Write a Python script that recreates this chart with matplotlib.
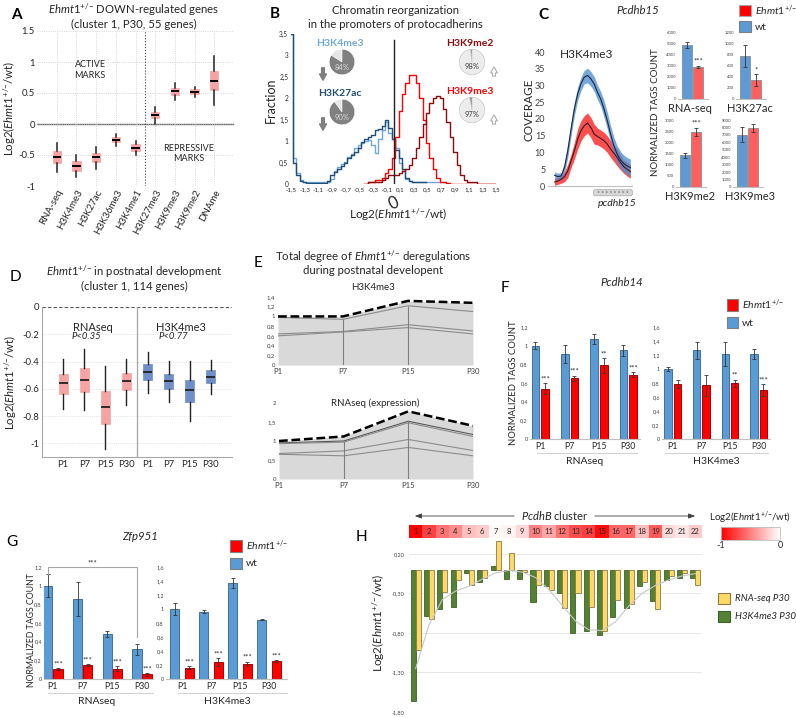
import numpy as np
import matplotlib
matplotlib.use('Agg')
import matplotlib.pyplot as plt
from matplotlib.colors import LinearSegmentedColormap
from matplotlib.patches import Rectangle, FancyBboxPatch

plt.rcParams['font.family'] = ['Lato', 'DejaVu Sans']
plt.rcParams['mathtext.fontset'] = 'custom'
plt.rcParams['mathtext.rm'] = 'Lato'
plt.rcParams['mathtext.it'] = 'Lato:italic'
plt.rcParams['mathtext.bf'] = 'Lato:bold'
plt.rcParams['axes.unicode_minus'] = False

nan = float('nan')
E1 = r'$\mathit{Ehmt1}^{{+}/{-}}$'
LOG2 = 'Log2(' + E1 + '/wt)'

# ---------------- data ----------------
# Panel A
a_marks = ['RNA-seq', 'H3K4me3', 'H3K27ac', 'H3K36me3', 'H3K4me1', 'H3K27me3', 'H3K9me3', 'H3K9me2', 'DNAme']
a_whislo = [-0.78, -0.85, -0.72, -0.35, -0.50, 0.00, 0.38, 0.43, 0.30]
a_q1 = [-0.63, -0.75, -0.61, -0.29, -0.43, 0.09, 0.47, 0.48, 0.55]
a_med = [-0.54, -0.67, -0.54, -0.25, -0.38, 0.14, 0.53, 0.52, 0.70]
a_q3 = [-0.43, -0.60, -0.47, -0.21, -0.33, 0.19, 0.58, 0.56, 0.86]
a_whishi = [-0.30, -0.50, -0.37, -0.16, -0.27, 0.27, 0.66, 0.60, 1.10]
a_yticks = [-1, -0.5, 0, 0.5, 1, 1.5]
a_yticklabels = ['-1', '-0.5', '0', '0.5', '1', '1.5']

# Panel B
b_bins = [-1.50, -1.45, -1.40, -1.35, -1.30, -1.25, -1.20, -1.15, -1.10, -1.05, -1.00, -0.95, -0.90, -0.85,
          -0.80, -0.75, -0.70, -0.65, -0.60, -0.55, -0.50, -0.45, -0.40, -0.35, -0.30, -0.25, -0.20, -0.15,
          -0.10, -0.05, 0.00, 0.05, 0.10, 0.15, 0.20, 0.25, 0.30, 0.35, 0.40, 0.45, 0.50, 0.55, 0.60, 0.65,
          0.70, 0.75, 0.80, 0.85, 0.90, 0.95, 1.00, 1.05, 1.10, 1.15, 1.20, 1.25, 1.30, 1.35, 1.40, 1.45, 1.50]
b_k4me3 = [3.5, 0.6, 0.25, 0.1, 0.05, 0.05, 0.05, 0.05, 0.05, 0.05, 0.05, 0.05,
           0.12, 0.3, 0.4, 0.47, 0.52, 0.62, 0.7, 0.85, 0.9, 0.95, 1.0, 1.02, 0.9, 0.72, 1.05, 1.25,
           1.45, 1.2, 1.05, 0.85, 0.5, 0.3, 0.12, 0.06,
           0.05, 0.05, 0.05, 0.05, 0.05, 0.05, 0.05, 0.05, 0.05, 0.05,
           nan, nan, nan, nan, nan, nan, nan, nan, nan, nan, nan, nan, nan, nan, nan]
b_k27ac = [3.5, 0.5, 0.2, 0.08, 0.04, 0.03, 0.03, 0.03, 0.03, 0.03,
           0.03, 0.08, 0.2, 0.28, 0.35, 0.42, 0.5, 0.6, 0.68, 0.75, 0.85, 0.98, 1.05, 1.1, 1.15, 1.25,
           1.28, 1.35, 1.5, 1.3, 1.05, 0.8, 0.6, 0.35, 0.15, 0.07,
           0.05, 0.05, 0.05, 0.05,
           nan, nan, nan, nan, nan, nan, nan, nan, nan, nan, nan, nan, nan, nan, nan, nan, nan, nan, nan, nan, nan]
b_k9me3 = [nan] * 22 + [0.0,
           0.05, 0.05, 0.1, 0.1, 0.15, 0.25, 0.35, 0.6, 1.1, 1.7, 2.1, 2.35, 2.55, 2.55, 2.35, 2.0, 1.5,
           0.95, 0.6, 0.35, 0.15, 0.05, 0.05, 0.03,
           0, 0, 0, 0, 0, 0, 0, 0, 0, 0, 0, 0, 0, 0]
b_k9me2 = [nan] * 22 + [0.0,
           0.05, 0.05, 0.05, 0.05, 0.1, 0.15, 0.2, 0.2, 0.22, 0.25, 0.3, 0.35, 0.45, 0.6, 0.85, 1.1, 1.4,
           1.65, 1.9, 2.0, 2.05, 2.0, 1.75, 1.45, 1.1, 0.75, 0.45, 0.2, 0.1, 0.05, 0.05, 0.05,
           0, 0, 0, 0, 0, 0]
b_xticks = [-1.5, -1.3, -1.1, -0.9, -0.7, -0.5, -0.3, -0.1, 0.1, 0.3, 0.5, 0.7, 0.9, 1.1, 1.3, 1.5]
b_yticks = [0, 0.5, 1, 1.5, 2, 2.5, 3, 3.5]
b_pie_names = ['H3K4me3', 'H3K27ac', 'H3K9me2', 'H3K9me3']
b_pie_pct = [84, 90, 98, 97]

# Panel C
c_wt_mean = [3.2, 2.8, 3.0, 5.5, 10.5, 17, 23, 27.5, 30.5, 32.5, 33, 32, 30.5, 28, 26, 23, 19.5, 15.5,
             12, 9.5, 7.8, 6.7, 6.0, 5.5]
c_wt_sd = [1, 1, 1, 1.5, 2, 2, 2, 2, 2, 2, 2.2, 2.2, 2.2, 2.2, 2.2, 2.5, 2.5, 2.5, 2.5, 2.5, 2.5, 2.5, 2.5, 2.5]
c_mut_mean = [1.2, 1.5, 2.0, 2.8, 4.5, 7.5, 10.5, 14, 16.5, 18, 18.8, 17.5, 15.5, 14.8, 14.2, 13.5, 12.5,
              11, 9.8, 8.5, 7, 5.8, 5.0, 4.3]
c_mut_sd = [1, 1, 1.2, 1.5, 2, 2, 2.5, 3, 3, 3, 3, 3, 3, 2.5, 2.5, 2.5, 2.5, 2.5, 2.5, 2.5, 2.2, 2, 2, 2]
c_cov_ticks = [0, 5, 10, 15, 20, 25, 30, 35, 40]
c_sets = ['RNA-seq', 'H3K27ac', 'H3K9me2', 'H3K9me3']
c_wt = [4850, 770, 1420, 7000]
c_wt_err = [280, 200, 100, 1000]
c_mut = [2850, 340, 2480, 7900]
c_mut_err = [80, 100, 180, 500]
c_stars = ['***', '*', '***', '']
c_ymax = [6000, 1200, 3000, 9000]
c_yticks = [[0, 1000, 2000, 3000, 4000, 5000, 6000],
            [0, 200, 400, 600, 800, 1000, 1200],
            [0, 500, 1000, 1500, 2000, 2500, 3000],
            [0, 1000, 2000, 3000, 4000, 5000, 6000, 7000, 8000, 9000]]

# Panel D
d_labels = ['P1', 'P7', 'P15', 'P30', 'P1', 'P7', 'P15', 'P30']
d_whislo = [-0.75, -0.755, -1.04, -0.715, -0.63, -0.695, -0.835, -0.635]
d_q1 = [-0.635, -0.62, -0.855, -0.61, -0.535, -0.60, -0.695, -0.555]
d_med = [-0.56, -0.535, -0.735, -0.545, -0.475, -0.545, -0.61, -0.51]
d_q3 = [-0.49, -0.445, -0.615, -0.485, -0.42, -0.49, -0.535, -0.465]
d_whishi = [-0.38, -0.31, -0.435, -0.38, -0.33, -0.395, -0.395, -0.39]
d_yticks = [-1, -0.8, -0.6, -0.4, -0.2, 0]
d_yticklabels = ['-1', '-0.8', '-0.6', '-0.4', '-0.2', '0']

# Panel E
stages = ['P1', 'P7', 'P15', 'P30']
e_k4_total = [1.0, 1.0, 1.32, 1.28]
e_k4_lines = [[0.98, 0.94, 1.22, 1.10], [0.64, 0.69, 0.83, 0.70], [0.60, 0.68, 0.77, 0.64]]
e_rna_total = [1.0, 1.12, 1.78, 1.40]
e_rna_lines = [[0.95, 1.0, 1.52, 1.17], [0.93, 0.97, 1.48, 1.12], [0.67, 0.74, 1.04, 0.75],
               [0.65, 0.61, 0.83, 0.61]]
e_k4_ticks = [0, 0.2, 0.4, 0.6, 0.8, 1, 1.2, 1.4]
e_rna_ticks = [0, 0.5, 1, 1.5, 2]

# Panel F (Pcdhb14)
f_rna_wt = [1.0, 0.91, 1.07, 0.95]
f_rna_wt_err = [0.04, 0.10, 0.05, 0.06]
f_rna_mut = [0.54, 0.65, 0.79, 0.69]
f_rna_mut_err = [0.06, 0.03, 0.08, 0.03]
f_rna_stars = ['***', '***', '**', '***']
f_k4_wt = [1.0, 1.27, 1.21, 1.21]
f_k4_wt_err = [0.03, 0.12, 0.17, 0.07]
f_k4_mut = [0.79, 0.77, 0.80, 0.70]
f_k4_mut_err = [0.06, 0.15, 0.05, 0.09]
f_k4_stars = ['', '', '**', '***']
ticks_12 = [0, 0.2, 0.4, 0.6, 0.8, 1, 1.2]
ticks_16 = [0, 0.2, 0.4, 0.6, 0.8, 1, 1.2, 1.4, 1.6]

# Panel G (Zfp951)
g_rna_wt = [1.0, 0.86, 0.48, 0.32]
g_rna_wt_err = [0.12, 0.18, 0.03, 0.06]
g_rna_mut = [0.11, 0.15, 0.11, 0.05]
g_rna_mut_err = [0.01, 0.015, 0.025, 0.015]
g_rna_stars = ['***', '***', '***', '***']
g_k4_wt = [1.0, 0.96, 1.37, 0.85]
g_k4_wt_err = [0.09, 0.02, 0.07, 0.01]
g_k4_mut = [0.16, 0.24, 0.22, 0.26]
g_k4_mut_err = [0.02, 0.06, 0.03, 0.01]
g_k4_stars = ['***', '***', '***', '***']

# Panel H
h_genes = [str(i) for i in range(1, 23)]
h_k4 = [-1.66, -0.58, -0.50, -0.47, -0.04, -0.16, 0.05, -0.12, -0.12, -0.41, -0.21, -0.30, -0.80, -0.78,
        -0.83, -0.60, -0.49, -0.21, -0.40, -0.13, -0.11, -0.10]
h_rna = [-1.01, -0.62, -0.28, -0.13, -0.19, -0.10, 0.36, 0.21, -0.03, -0.19, -0.26, -0.48, -0.30, -0.47,
         -0.77, -0.39, -0.43, -0.15, -0.50, -0.08, -0.04, -0.19]
h_trend = [-1.25, -0.70, -0.38, -0.27, -0.21, -0.12, -0.04, -0.01, -0.03, -0.10, -0.25, -0.45, -0.65,
           -0.76, -0.77, -0.66, -0.46, -0.30, -0.20, -0.13, -0.08, -0.05]
h_heat = [-1.0, -0.75, -0.55, -0.45, -0.25, -0.2, -0.02, -0.05, -0.15, -0.5, -0.35, -0.55, -0.7, -0.75,
          -0.95, -0.6, -0.6, -0.25, -0.65, -0.15, -0.1, -0.2]
h_yticks = [-1.8, -1.3, -0.8, -0.3, 0.2]
h_yticklabels = ['-1,80', '-1,30', '-0,80', '-0,30', '0,20']

# ---------------- colours ----------------
PINK = '#f5a3a3'
DBOX = '#6f8fc8'
LBLUE = '#6fa8dc'
DBLUE = '#1f4e79'
RED = '#ff0000'
DRED = '#8e0b0b'
BLUE = '#5b9bd5'
BLUE_E = '#41719c'
RED_E = '#b00000'
CRED = '#ff5f5f'
YEL = '#ffd966'
GRN = '#548235'
TXT = '#262626'

TITLE = 8.2


def cf(v):
    return ('%g' % v).replace('.', ',')


# ---------------- figure ----------------
W, H = 796, 718
fig = plt.figure(figsize=(W / 100, H / 100), dpi=100)


def pax(x0, y0, x1, y1, **kw):
    return fig.add_axes([x0 / W, 1 - y1 / H, (x1 - x0) / W, (y1 - y0) / H], **kw)


ov = fig.add_axes([0, 0, 1, 1], zorder=20)
ov.set_xlim(0, W)
ov.set_ylim(H, 0)
ov.axis('off')


def T(x, y, s, size=7, **kw):
    kw.setdefault('ha', 'center')
    kw.setdefault('va', 'center')
    kw.setdefault('color', TXT)
    return ov.text(x, y, s, fontsize=size, **kw)


def sq(x, y, w, h, fc, ec):
    ov.add_patch(Rectangle((x, y), w, h, facecolor=fc, edgecolor=ec, lw=0.8))


# ===== Panel A =====
axA = pax(37, 31, 234, 186)
posA = np.arange(1, len(a_marks) + 1)
statsA = [dict(label=l, whislo=a, q1=b, med=c, q3=d, whishi=e)
          for l, a, b, c, d, e in zip(a_marks, a_whislo, a_q1, a_med, a_q3, a_whishi)]
axA.bxp(statsA, positions=posA, widths=0.42, patch_artist=True, showfliers=False, showcaps=False,
        boxprops=dict(facecolor=PINK, edgecolor=PINK, lw=0.5),
        medianprops=dict(color='black', lw=1.4),
        whiskerprops=dict(color='#222222', lw=1.1))
axA.set_xlim(0, 10)
axA.set_ylim(-1, 1.5)
axA.set_yticks(a_yticks)
axA.set_yticklabels(a_yticklabels, fontsize=6.8)
axA.set_xticks(posA)
axA.set_xticklabels(a_marks, rotation=62, ha='right', rotation_mode='anchor', fontsize=7)
axA.grid(True, ls=':', color='#c8c8c8', lw=0.6)
axA.set_axisbelow(True)
axA.axhline(0, color='#666666', lw=1, zorder=0.5)
axA.axvline(5.5, color='#404040', ls=':', lw=0.8)
for s in axA.spines.values():
    s.set_visible(False)
axA.tick_params(length=0, pad=1.5, colors=TXT)
axA.text(2.7, 0.87, 'ACTIVE\nMARKS', ha='center', va='center', fontsize=6.5, color=TXT)
axA.text(7.7, -0.48, 'REPRESSIVE\nMARKS', ha='center', va='center', fontsize=6.5, color=TXT)
T(16, 15, 'A', 11, weight='bold', color='black')
T(134, 10, E1 + ' DOWN-regulated genes', TITLE)
T(134, 24, '(cluster 1, P30, 55 genes)', TITLE)
T(10, 108, LOG2, 8.2, rotation=90)

# ===== Panel B =====
axB = pax(291, 34, 496, 184)
xb = np.array(b_bins)
axB.plot(xb, b_k4me3, color=LBLUE, lw=1.0, drawstyle='steps-mid')
axB.plot(xb, b_k27ac, color=DBLUE, lw=1.0, drawstyle='steps-mid')
axB.plot(xb, b_k9me3, color=RED, lw=1.0, drawstyle='steps-mid')
axB.plot(xb, b_k9me2, color=DRED, lw=1.0, drawstyle='steps-mid')
axB.plot([0, 0], [0, 3.35], color='#222222', lw=1)
axB.set_xlim(-1.5, 1.5)
axB.set_ylim(0, 3.5)
axB.set_xticks(b_xticks)
axB.set_xticklabels([cf(v) for v in b_xticks], fontsize=4.5)
axB.set_yticks(b_yticks)
axB.set_yticklabels([cf(v) for v in b_yticks], fontsize=4.7)
for s in axB.spines.values():
    s.set_visible(False)
axB.tick_params(length=0, pad=2, colors=TXT)
T(275, 14, 'B', 11, weight='bold', color='black')
T(395, 10, 'Chromatin reorganization', TITLE)
T(395, 24, 'in the promoters of protocadherins', TITLE)
T(271, 100, 'Fraction', 9, rotation=90)
T(394, 203, '0', 12, rotation=25)
T(398, 215, LOG2, 8.5)

pie_spec = [(342, 62, LBLUE, True), (342, 112, DBLUE, True), (472, 62, DRED, False), (472, 110, RED, False)]
ARW = 'simple,head_width=0.5,head_length=0.45,tail_width=0.2'
for (cx, cy, col, down), name, pct in zip(pie_spec, b_pie_names, b_pie_pct):
    pa = pax(cx - 16, cy - 16, cx + 16, cy + 16)
    if down:
        pa.pie([100 - pct, pct], colors=['#e6e6e6', '#808080'], startangle=90, counterclock=True,
               wedgeprops=dict(edgecolor='white', lw=0.4))
        pa.text(0, -0.42, '%d%%' % pct, ha='center', va='center', fontsize=5.5, color='#d9d9d9')
    else:
        pa.pie([100 - pct, pct], colors=['#7f7f7f', '#ececec'], startangle=90, counterclock=True,
               wedgeprops=dict(edgecolor='#bfbfbf', lw=0.4))
        pa.text(0, -0.38, '%d%%' % pct, ha='center', va='center', fontsize=5.5, color='#404040')
    pa.set_aspect('equal')
    T(cx - 2, cy - 19, name, 7.5, weight='bold', color=col)
    if down:
        ov.annotate('', xy=(323, cy + 21), xytext=(323, cy + 3),
                    arrowprops=dict(arrowstyle=ARW, fc='#7f7f7f', ec='#7f7f7f'))
    else:
        ov.annotate('', xy=(494, cy + 2), xytext=(494, cy + 17),
                    arrowprops=dict(arrowstyle=ARW, fc='white', ec='#a6a6a6', lw=0.7))

# ===== Panel C =====
axC = pax(548, 52, 632, 186)
xc = np.arange(len(c_wt_mean))
mm = np.array(c_mut_mean)
ms = np.array(c_mut_sd)
wm = np.array(c_wt_mean)
ws = np.array(c_wt_sd)
axC.fill_between(xc, mm - ms, mm + ms, color='#ff3b3b', alpha=0.9, lw=0)
axC.fill_between(xc, wm - ws, wm + ws, color='#4f8fd0', alpha=0.78, lw=0)
axC.plot(xc, wm, color='#1c2640', lw=0.8)
axC.plot(xc, mm, color='#2a1c28', lw=0.8)
axC.set_ylim(0, 40)
axC.set_xlim(-2, len(c_wt_mean) - 0.5)
axC.set_yticks(c_cov_ticks)
axC.set_yticklabels([str(v) for v in c_cov_ticks], fontsize=6.5)
axC.set_xticks([])
for s in ['top', 'right', 'left']:
    axC.spines[s].set_visible(False)
axC.spines['bottom'].set_color('#bfbfbf')
axC.tick_params(length=0, pad=2, colors='#404040')
T(543, 15, 'C', 11, weight='bold', color='black')
T(638, 11, 'Pcdhb15', TITLE, style='italic')
T(587, 55, 'H3K4me3', 8.5)
T(529, 110, 'COVERAGE', 8.5, rotation=90)
ov.add_patch(FancyBboxPatch((594, 190), 38, 5.5, boxstyle='round,pad=0.3,rounding_size=1.5',
                            fc='#d9d9d9', ec='#a6a6a6', lw=0.5))
T(613, 192.8, '> > > > > > > >', 3.6, color='#404040')
T(617, 204, 'pcdhb15', 7.5, style='italic')

c_boxes = [(678, 32, 708, 99), (736, 32, 766, 99), (676, 120, 706, 187), (733, 120, 763, 187)]
c_lab_xy = [(690, 109), (750, 109), (690, 196), (750, 196)]
for i in range(4):
    ax = pax(*c_boxes[i])
    ax.bar([0, 1], [c_wt[i], c_mut[i]], width=0.88, color=['#5f9ad6', CRED], edgecolor='#8c8c8c', lw=0.6)
    ax.errorbar([0, 1], [c_wt[i], c_mut[i]], yerr=[c_wt_err[i], c_mut_err[i]], fmt='none',
                ecolor='#333333', elinewidth=0.6, capsize=1.2, capthick=0.6)
    if c_stars[i]:
        ax.text(1, c_mut[i] + c_mut_err[i] + c_ymax[i] * 0.02, c_stars[i], ha='center', va='bottom',
                fontsize=5.5, color=TXT)
    ax.set_ylim(0, c_ymax[i])
    ax.set_xlim(-0.85, 1.9)
    ax.set_yticks(c_yticks[i])
    ax.set_yticklabels([str(v) for v in c_yticks[i]], fontsize=3)
    ax.set_xticks([])
    for s in ['top', 'right', 'left']:
        ax.spines[s].set_visible(False)
    ax.spines['bottom'].set_color('#bfbfbf')
    ax.tick_params(length=0, pad=1.5, colors='#404040')
    T(c_lab_xy[i][0], c_lab_xy[i][1], c_sets[i], 8)
T(655, 112, 'NORMALIZED TAGS COUNT', 7, rotation=90)
sq(739, 5, 12, 11, RED, '#a6a6a6')
T(755, 11, E1, 7.5, ha='left')
sq(739, 21, 12, 11, BLUE, '#7f7f7f')
T(755, 27, 'wt', 7.5, ha='left')

# ===== Panel D =====
axD = pax(42, 307, 232, 457)
posD = np.arange(1, 9)
statsD = [dict(label=l, whislo=a, q1=b, med=c, q3=d, whishi=e)
          for l, a, b, c, d, e in zip(d_labels, d_whislo, d_q1, d_med, d_q3, d_whishi)]
bD = axD.bxp(statsD, positions=posD, widths=0.42, patch_artist=True, showfliers=False, showcaps=False,
             boxprops=dict(lw=0.5),
             medianprops=dict(color='#222222', lw=1.3),
             whiskerprops=dict(color='#222222', lw=1.0))
for k, b in enumerate(bD['boxes']):
    c = PINK if k < 4 else DBOX
    b.set_facecolor(c)
    b.set_edgecolor(c)
axD.set_xlim(0, 9)
axD.set_ylim(-1.1, 0)
axD.set_yticks(d_yticks)
axD.set_yticklabels(d_yticklabels, fontsize=6.8)
axD.set_xticks(posD)
axD.set_xticklabels(d_labels, fontsize=6.8)
axD.yaxis.grid(True, ls=':', color='#d0d0d0', lw=0.5)
axD.set_axisbelow(True)
axD.axhline(0, color='#555555', ls=(0, (3, 2)), lw=0.8)
axD.axvline(4.5, color='#a6a6a6', lw=0.9)
axD.spines['top'].set_visible(False)
axD.spines['right'].set_visible(False)
axD.spines['left'].set_color('#a6a6a6')
axD.spines['bottom'].set_color('#a6a6a6')
axD.tick_params(length=0, pad=2, colors=TXT)
axD.text(2.4, -0.15, 'RNAseq', ha='center', va='center', fontsize=8, color=TXT)
axD.text(2.1, -0.215, 'P<0.35', ha='center', va='center', fontsize=6.8, style='italic', color=TXT)
axD.text(6.6, -0.15, 'H3K4me3', ha='center', va='center', fontsize=8, color=TXT)
axD.text(6.2, -0.215, 'P<0.77', ha='center', va='center', fontsize=6.8, style='italic', color=TXT)
T(15, 277, 'D', 11, color='black')
T(134, 272, E1 + ' in postnatal development', TITLE)
T(134, 286, '(cluster 1, 114 genes)', TITLE)
T(11, 382, LOG2, 8.2, rotation=90)

# ===== Panel E =====
xe = np.arange(len(stages))


def area_panel(box, total, lines, yticks, ymax, dark_first):
    ax = pax(*box)
    ax.fill_between(xe, 0, total, color='#d9d9d9', lw=0)
    for j, ln in enumerate(lines):
        ax.plot(xe, ln, color='#595959' if (dark_first and j == 0) else '#8c8c8c', lw=0.8)
    ax.vlines(xe[1:3], 0, np.array(lines[0])[1:3], color='#7f7f7f', lw=0.8)
    ax.plot(xe, total, color='black', lw=1.8, ls=(0, (3.5, 1.5)))
    ax.set_xlim(0, 3)
    ax.set_ylim(0, ymax)
    ax.set_yticks(yticks)
    ax.set_yticklabels([cf(v) for v in yticks], fontsize=4.3)
    ax.set_xticks(xe)
    ax.set_xticklabels(stages, fontsize=5.5)
    for s in ax.spines.values():
        s.set_visible(False)
    ax.tick_params(length=0, pad=2, colors='#404040')
    return ax


area_panel((278, 297, 473, 365), e_k4_total, e_k4_lines, e_k4_ticks, 1.4, False)
axE2 = area_panel((279, 403, 473, 479), e_rna_total, e_rna_lines, e_rna_ticks, 2.0, True)
axE2.vlines(3, e_rna_lines[0][3], e_rna_total[3], color='#404040', lw=0.8)
T(258, 263, 'E', 11, color='black')
T(373, 257, 'Total degree of ' + E1 + ' deregulations', TITLE)
T(373, 271, 'during postnatal developent', TITLE)
T(373, 287, 'H3K4me3', 7)
T(375, 403, 'RNAseq (expression)', 7)


# ===== grouped bar helper (F, G) =====
def grouped(box, wt, wt_err, mut, mut_err, stars, yticks, width, off, xlim):
    ax = pax(*box)
    x = np.arange(len(stages))
    ek = dict(elinewidth=0.6, capsize=1.2, capthick=0.6, ecolor='#333333')
    ax.bar(x - off, wt, width, yerr=wt_err, color=BLUE, edgecolor=BLUE_E, lw=0.7, error_kw=ek)
    ax.bar(x + off, mut, width, yerr=mut_err, color=RED, edgecolor=RED_E, lw=0.7, error_kw=ek)
    ymax = yticks[-1]
    for xi, m, e, s in zip(x, mut, mut_err, stars):
        if s:
            ax.text(xi + off, m + e + ymax * 0.005, s, ha='center', va='bottom', fontsize=5.5, color=TXT)
    ax.set_ylim(0, ymax)
    ax.set_xlim(*xlim)
    ax.set_yticks(yticks)
    ax.set_yticklabels([cf(v) for v in yticks], fontsize=4)
    ax.set_xticks(x)
    ax.set_xticklabels(stages, fontsize=6.3)
    for s in ['top', 'right', 'left']:
        ax.spines[s].set_visible(False)
    ax.spines['bottom'].set_color('#bfbfbf')
    ax.tick_params(length=0, pad=1.5, colors='#404040')
    ax.tick_params(axis='x', pad=2, colors=TXT)
    return ax


# ===== Panel F =====
grouped((530, 327, 640, 439), f_rna_wt, f_rna_wt_err, f_rna_mut, f_rna_mut_err, f_rna_stars,
        ticks_12, 0.26, 0.165, (-0.35, 3.4))
grouped((662, 327, 770, 439), f_k4_wt, f_k4_wt_err, f_k4_mut, f_k4_mut_err, f_k4_stars,
        ticks_16, 0.26, 0.165, (-0.38, 3.4))
ov.plot([537, 637], [453, 453], color='#d0d0d0', lw=0.7)
ov.plot([665, 768], [453, 453], color='#d0d0d0', lw=0.7)
T(585, 461, 'RNAseq', 7.5)
T(716, 461, 'H3K4me3', 7.5)
T(505, 288, 'F', 11, color='black')
T(622, 283, 'Pcdhb14', TITLE, style='italic')
T(513, 383, 'NORMALIZED TAGS COUNT', 6.8, rotation=90)
sq(727, 299, 11, 12, RED, '#7f7f7f')
T(742, 305, E1, 7.5, ha='left')
sq(727, 317, 11, 11, BLUE, '#7f7f7f')
T(742, 323, 'wt', 7.5, ha='left')

# ===== Panel G =====
axG1 = grouped((44, 567, 153, 679), g_rna_wt, g_rna_wt_err, g_rna_mut, g_rna_mut_err, g_rna_stars,
               ticks_12, 0.31, 0.17, (-0.3, 3.37))
grouped((166, 567, 287, 679), g_k4_wt, g_k4_wt_err, g_k4_mut, g_k4_mut_err, g_k4_stars,
        ticks_16, 0.3, 0.25, (-0.55, 3.62))
axG1.plot([-0.17, -0.17, 2.83, 2.83], [1.13, 1.2, 1.2, 0.45], color='#a6a6a6', lw=0.8, clip_on=False)
axG1.text(1.33, 1.205, '***', ha='center', va='bottom', fontsize=5.5, color=TXT)
ov.plot([48, 153], [693, 693], color='#d0d0d0', lw=0.7)
ov.plot([178, 287], [693, 693], color='#d0d0d0', lw=0.7)
T(97, 702, 'RNAseq', 7.5)
T(227, 702, 'H3K4me3', 7.5)
T(12, 542, 'G', 11, color='black')
T(140, 537, 'Zfp951', TITLE, style='italic')
T(31, 630, 'NORMALIZED TAGS COUNT', 6.3, rotation=90)
sq(230, 540, 12, 12, RED, '#7f7f7f')
T(246, 546, E1, 7.5, ha='left')
sq(230, 558, 12, 11, BLUE, '#7f7f7f')
T(246, 564, 'wt', 7.5, ha='left')

# ===== Panel H =====
axH = pax(409, 538, 702, 712)
xh = np.arange(1, len(h_genes) + 1)
for yv in h_yticks:
    axH.axhline(yv, color='#e3e3e3', lw=0.6, zorder=0)
axH.bar(xh - 0.19, h_k4, 0.38, color=GRN, edgecolor='#3d6127', lw=0.6, zorder=2)
axH.bar(xh + 0.19, h_rna, 0.38, color=YEL, edgecolor='#8c7a45', lw=0.6, zorder=2)
axH.plot(xh, h_trend, color='#c8c8c8', lw=0.8, zorder=3)
axH.set_xlim(0.5, 22.5)
axH.set_ylim(-1.8, 0.4)
axH.set_yticks(h_yticks)
axH.set_yticklabels(h_yticklabels, fontsize=4)
axH.set_xticks([])
for s in axH.spines.values():
    s.set_visible(False)
axH.tick_params(length=0, pad=3, colors='#404040')

cmapH = LinearSegmentedColormap.from_list('redwhite', ['#ff0000', '#ffffff'])
axHM = pax(409, 525, 702, 538)
mesh = axHM.pcolormesh(np.arange(0.5, 23.0, 1.0), [0, 1], np.array([h_heat]), cmap=cmapH, vmin=-1, vmax=0)
for xi, g in zip(xh, h_genes):
    axHM.text(xi, 0.5, g, ha='center', va='center', fontsize=5.5, color=TXT)
axHM.set_xlim(0.5, 22.5)
axHM.set_ylim(0, 1)
axHM.axis('off')

cax = pax(721, 527, 780, 540)
cb = fig.colorbar(mesh, cax=cax, orientation='horizontal')
cb.set_ticks([-1, 0])
cb.set_ticklabels(['-1', '0'])
cb.ax.tick_params(labelsize=6.5, length=0, pad=1, colors=TXT)
cb.outline.set_edgecolor('#bfbfbf')
cb.outline.set_linewidth(0.6)
T(750, 518, LOG2, 7)

ov.annotate('', xy=(412, 516), xytext=(517, 516),
            arrowprops=dict(arrowstyle='-|>,head_width=0.15,head_length=0.4', color='#404040', lw=0.6))
ov.annotate('', xy=(698, 516), xytext=(592, 516),
            arrowprops=dict(arrowstyle='-|>,head_width=0.15,head_length=0.4', color='#404040', lw=0.6))
T(555, 516, r'$\mathit{PcdhB}$ cluster', 8)
T(361, 537, 'H', 11, color='black')
T(379, 623, LOG2, 8.5, rotation=90)
sq(718, 593, 12, 11, YEL, '#8c7a45')
T(735, 598.5, 'RNA-seq P30', 7, ha='left', style='italic')
sq(718, 611, 12, 11, GRN, '#3d6127')
T(735, 616.5, 'H3K4me3 P30', 7, ha='left', style='italic')

fig.savefig('out.png', dpi=100)
